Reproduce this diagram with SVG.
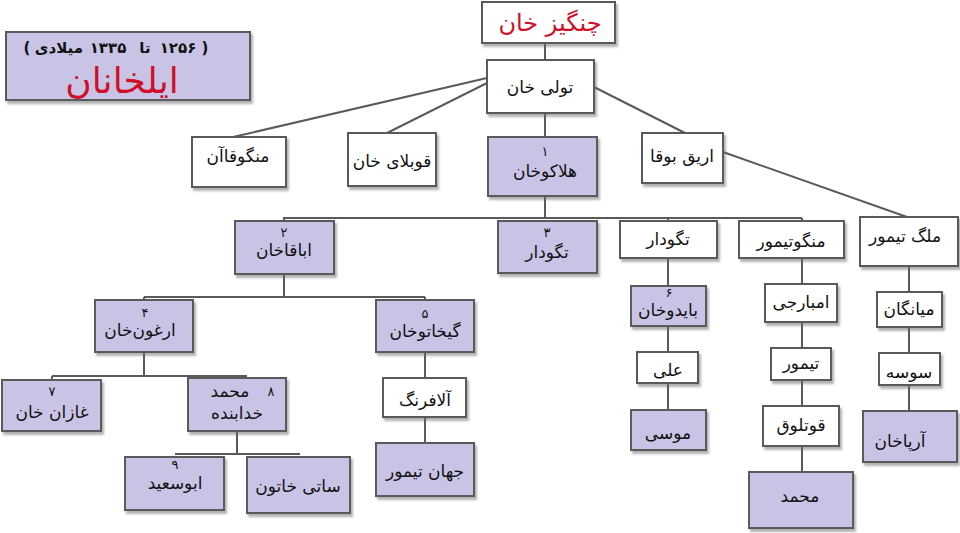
<svg xmlns="http://www.w3.org/2000/svg" width="960" height="533" viewBox="0 0 960 533">
<defs>
<filter id="sh" x="-10%" y="-10%" width="130%" height="140%">
<feDropShadow dx="2" dy="3" stdDeviation="1.2" flood-color="#666" flood-opacity="0.5"/>
</filter>
</defs>
<style>
.b{stroke:#5a5a5a;stroke-width:2;filter:url(#sh)}
.w{fill:#ffffff}
.p{fill:#c9c4e6}
text{font-family:"DejaVu Sans","Noto Sans",sans-serif;font-size:17px;fill:#111;text-anchor:middle}
.n{font-size:13px}
.red{fill:#d0102a}
.sub{font-weight:bold;font-size:15px}
.c{stroke:#5a5a5a;stroke-width:2;fill:none}
</style>
<rect width="960" height="533" fill="#ffffff"/>

<g id="connectors">
<line class="c" x1="545" y1="43" x2="545" y2="60"/>
<line class="c" x1="487" y1="78" x2="233" y2="137"/>
<line class="c" x1="487" y1="83" x2="385" y2="134"/>
<line class="c" x1="594" y1="87" x2="685" y2="133"/>
<line class="c" x1="723" y1="152" x2="907" y2="217"/>
<line class="c" x1="545" y1="113" x2="545" y2="137"/>
<line class="c" x1="545" y1="196" x2="545" y2="218"/>
<line class="c" x1="283" y1="218" x2="802" y2="218"/>
<line class="c" x1="284" y1="218" x2="284" y2="221"/>
<line class="c" x1="668" y1="218" x2="668" y2="221"/>
<line class="c" x1="802" y1="218" x2="802" y2="221"/>
<line class="c" x1="284" y1="274" x2="284" y2="297"/>
<line class="c" x1="144" y1="297" x2="425" y2="297"/>
<line class="c" x1="144" y1="297" x2="144" y2="300"/>
<line class="c" x1="425" y1="297" x2="425" y2="300"/>
<line class="c" x1="144" y1="352" x2="144" y2="376"/>
<line class="c" x1="52" y1="376" x2="247" y2="376"/>
<line class="c" x1="52" y1="376" x2="52" y2="380"/>
<line class="c" x1="237" y1="431" x2="237" y2="454"/>
<line class="c" x1="175" y1="454" x2="300" y2="454"/>
<line class="c" x1="425" y1="352" x2="425" y2="378"/>
<line class="c" x1="425" y1="417" x2="425" y2="443"/>
<line class="c" x1="668" y1="258" x2="668" y2="286"/>
<line class="c" x1="668" y1="326" x2="668" y2="352"/>
<line class="c" x1="668" y1="383" x2="668" y2="410"/>
<line class="c" x1="802" y1="258" x2="802" y2="284"/>
<line class="c" x1="802" y1="322" x2="802" y2="348"/>
<line class="c" x1="802" y1="380" x2="802" y2="406"/>
<line class="c" x1="802" y1="446" x2="802" y2="472"/>
<line class="c" x1="909" y1="266" x2="909" y2="292"/>
<line class="c" x1="909" y1="327" x2="909" y2="353"/>
<line class="c" x1="909" y1="385" x2="909" y2="411"/>
</g>

<g id="title">
<rect class="b p" x="6" y="32" width="244" height="68"/>
<g id="subtitle">
<text class="sub" x="27" y="53">(</text>
<text class="sub" x="83" y="53" style="text-anchor:end">میلادی</text>
<text class="sub" x="108" y="53">۱۳۳۵</text>
<text class="sub" x="145" y="53">تا</text>
<text class="sub" x="178" y="53">۱۲۵۶</text>
<text class="sub" x="205" y="53">)</text>
</g>
<text class="red" x="122" y="93" style="font-size:36px">ایلخانان</text>
</g>

<g id="chengiz">
<rect class="b w" x="482" y="2" width="133" height="41"/>
<text class="red" x="550" y="31" style="font-size:24px">چنگیز خان</text>
</g>
<g id="toli">
<rect class="b w" x="487" y="60" width="107" height="53"/>
<text x="540" y="93">تولی خان</text>
</g>
<g id="mongke">
<rect class="b w" x="192" y="137" width="94" height="50"/>
<text x="238" y="162">منگوقاآن</text>
</g>
<g id="qubilai">
<rect class="b w" x="348" y="133" width="88" height="53"/>
<text x="392" y="167">قوبلای خان</text>
</g>
<g id="hulagu">
<rect class="b p" x="488" y="137" width="109" height="59"/>
<text class="n" x="545" y="156">۱</text>
<text x="545" y="177">هلاکوخان</text>
</g>
<g id="ariqboqa">
<rect class="b w" x="642" y="133" width="81" height="50"/>
<text x="682" y="162">اریق بوقا</text>
</g>

<g id="abaqa">
<rect class="b p" x="235" y="221" width="99" height="53"/>
<text class="n" x="284" y="237">۲</text>
<text x="284" y="256">اباقاخان</text>
</g>
<g id="tegudar3">
<rect class="b p" x="498" y="221" width="99" height="52"/>
<text class="n" x="547" y="237">۳</text>
<text x="547" y="258">تگودار</text>
</g>
<g id="tegudar">
<rect class="b w" x="620" y="221" width="97" height="37"/>
<text x="668" y="245">تگودار</text>
</g>
<g id="mengutimur">
<rect class="b w" x="739" y="221" width="105" height="37"/>
<text x="791" y="247">منگوتیمور</text>
</g>
<g id="malektimur">
<rect class="b w" x="860" y="217" width="98" height="49"/>
<text x="905" y="242">ملگ تیمور</text>
</g>

<g id="arghun">
<rect class="b p" x="95" y="300" width="98" height="52"/>
<text class="n" x="145" y="317">۴</text>
<text x="140" y="336">ارغون‌خان</text>
</g>
<g id="gaykhatu">
<rect class="b p" x="376" y="300" width="98" height="52"/>
<text class="n" x="425" y="318">۵</text>
<text x="425" y="337">گیخاتوخان</text>
</g>
<g id="ghazan">
<rect class="b p" x="2" y="380" width="99" height="51"/>
<text class="n" x="52" y="396">۷</text>
<text x="52" y="418">غازان خان</text>
</g>
<g id="oljeitu">
<rect class="b p" x="188" y="378" width="98" height="53"/>
<text class="n" x="271" y="396">۸</text>
<text x="230" y="397">محمد</text>
<text x="237" y="419">خدابنده</text>
</g>
<g id="abusaid">
<rect class="b p" x="125" y="457" width="99" height="53"/>
<text class="n" x="175" y="469">۹</text>
<text x="175" y="489">ابوسعید</text>
</g>
<g id="satibeg">
<rect class="b p" x="247" y="457" width="103" height="56"/>
<text x="298" y="492">ساتی خاتون</text>
</g>
<g id="alafrang">
<rect class="b w" x="383" y="378" width="83" height="39"/>
<text x="425" y="406">آلافرنگ</text>
</g>
<g id="jahantimur">
<rect class="b p" x="376" y="443" width="98" height="53"/>
<text x="425" y="477">جهان تیمور</text>
</g>

<g id="baydu">
<rect class="b p" x="631" y="286" width="75" height="40"/>
<text class="n" x="669" y="297">۶</text>
<text x="668" y="316">بایدوخان</text>
</g>
<g id="ali">
<rect class="b w" x="637" y="352" width="61" height="31"/>
<text x="668" y="376">علی</text>
</g>
<g id="musa">
<rect class="b p" x="631" y="410" width="75" height="40"/>
<text x="668" y="439">موسی</text>
</g>
<g id="ambarchi">
<rect class="b w" x="765" y="284" width="72" height="38"/>
<text x="801" y="308">امبارجی</text>
</g>
<g id="timur">
<rect class="b w" x="771" y="348" width="60" height="32"/>
<text x="801" y="369">تیمور</text>
</g>
<g id="qutluq">
<rect class="b w" x="763" y="406" width="76" height="40"/>
<text x="801" y="431">قوتلوق</text>
</g>
<g id="mohammad">
<rect class="b p" x="749" y="472" width="104" height="56"/>
<text x="800" y="502">محمد</text>
</g>
<g id="miangan">
<rect class="b w" x="877" y="292" width="65" height="35"/>
<text x="909" y="315">میانگان</text>
</g>
<g id="suse">
<rect class="b w" x="879" y="353" width="61" height="32"/>
<text x="909" y="378">سوسه</text>
</g>
<g id="arpa">
<rect class="b p" x="863" y="411" width="94" height="51"/>
<text x="900" y="447">آرپاخان</text>
</g>
</svg>
